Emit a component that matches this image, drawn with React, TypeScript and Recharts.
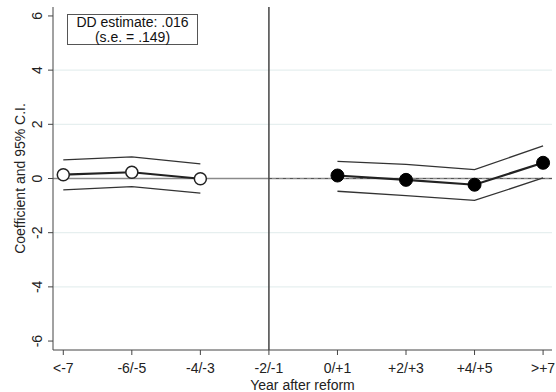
import {
  ComposedChart,
  Line,
  XAxis,
  YAxis,
  ReferenceLine,
  Label,
} from "recharts";

const categories = ["<-7", "-6/-5", "-4/-3", "-2/-1", "0/+1", "+2/+3", "+4/+5", ">+7"];
const coefPre = [0.14, 0.23, -0.01, null, null, null, null, null];
const coefPost = [null, null, null, null, 0.11, -0.05, -0.23, 0.58];
const ciUpper = [0.69, 0.8, 0.54, null, 0.63, 0.52, 0.33, 1.2];
const ciLower = [-0.42, -0.3, -0.54, null, -0.47, -0.63, -0.81, 0.02];
const yTicks = [-6, -4, -2, 0, 2, 4, 6];
const gridValues = [-4, -2, 2, 4];

const chartData = categories.map((c, i) => ({
  x: i,
  label: c,
  pre: coefPre[i],
  post: coefPost[i],
  hi: ciUpper[i],
  lo: ciLower[i],
}));

const FONT = '"Liberation Sans", Arial, Helvetica, sans-serif';

// rotated y tick labels, like Stata draws them
const RotatedTick = ({ x, y, payload }: any) => (
  <text
    x={x - 4}
    y={y}
    transform={`rotate(-90, ${x - 4}, ${y})`}
    textAnchor="middle"
    fontSize={14}
    fontFamily={FONT}
    fill="#222"
  >
    {payload.value}
  </text>
);

const BottomTick = ({ x, y, payload }: any) => (
  <text
    x={x}
    y={y + 16}
    textAnchor="middle"
    fontSize={14}
    fontFamily={FONT}
    fill="#222"
  >
    {categories[payload.value]}
  </text>
);

export default function App() {
  return (
    <div style={{ position: "absolute", left: 0, top: 0, width: 556, height: 392, background: "#fff" }}>
      <ComposedChart
        width={556}
        height={392}
        data={chartData}
        margin={{ top: 7, right: 4, left: 0, bottom: 0 }}
      >
        {gridValues.map((v) => (
          <ReferenceLine key={v} y={v} stroke="#e6efef" strokeWidth={1.2} />
        ))}
        <XAxis
          type="number"
          dataKey="x"
          domain={[-0.15, 7.13]}
          ticks={categories.map((_, i) => i)}
          allowDataOverflow
          height={42}
          stroke="#444"
          tickSize={5}
          tick={<BottomTick />}
        >
          <Label
            value="Year after reform"
            position="insideBottom"
            offset={2}
            style={{ fontSize: 14, fontFamily: FONT, fill: "#222" }}
          />
        </XAxis>
        <YAxis
          type="number"
          domain={[-6.33, 6.33]}
          ticks={yTicks}
          allowDataOverflow
          width={53}
          stroke="#444"
          tickSize={5}
          tick={<RotatedTick />}
          label={{
            content: ({ viewBox }: any) => {
              const cx = 20;
              const cy = viewBox.y + viewBox.height / 2;
              return (
                <text
                  x={cx}
                  y={cy}
                  transform={`rotate(-90, ${cx}, ${cy})`}
                  textAnchor="middle"
                  dominantBaseline="central"
                  fontSize={14}
                  fontFamily={FONT}
                  fill="#222"
                >
                  Coefficient and 95% C.I.
                </text>
              );
            },
          }}
        />
        <ReferenceLine y={0} stroke="#8a8a8a" strokeWidth={1.5} />
        <ReferenceLine
          segment={[
            { x: 3, y: 0 },
            { x: 7.13, y: 0 },
          ]}
          stroke="#555"
          strokeWidth={1.2}
          strokeDasharray="3 4"
        />
        <ReferenceLine x={3} stroke="#444" strokeWidth={1.5} />
        <Line
          dataKey="hi"
          stroke="#333"
          strokeWidth={1.3}
          dot={false}
          isAnimationActive={false}
          type="linear"
        />
        <Line
          dataKey="lo"
          stroke="#333"
          strokeWidth={1.3}
          dot={false}
          isAnimationActive={false}
          type="linear"
        />
        <Line
          dataKey="pre"
          stroke="#222"
          strokeWidth={2.2}
          dot={{ r: 6, fill: "#fff", stroke: "#222", strokeWidth: 1.5 }}
          isAnimationActive={false}
          type="linear"
        />
        <Line
          dataKey="post"
          stroke="#222"
          strokeWidth={2.2}
          dot={{ r: 6.5, fill: "#000", stroke: "#000", strokeWidth: 1 }}
          isAnimationActive={false}
          type="linear"
        />
      </ComposedChart>
      <div
        style={{
          position: "absolute",
          left: 67,
          top: 14,
          width: 131,
          height: 31,
          border: "1px solid #555",
          fontFamily: FONT,
          fontSize: 14,
          lineHeight: "14.5px",
          textAlign: "center",
          color: "#111",
          paddingTop: 0,
          boxSizing: "border-box",
          overflow: "visible",
        }}
      >
        <div>DD estimate: .016</div>
        <div>(s.e. = .149)</div>
      </div>
    </div>
  );
}
